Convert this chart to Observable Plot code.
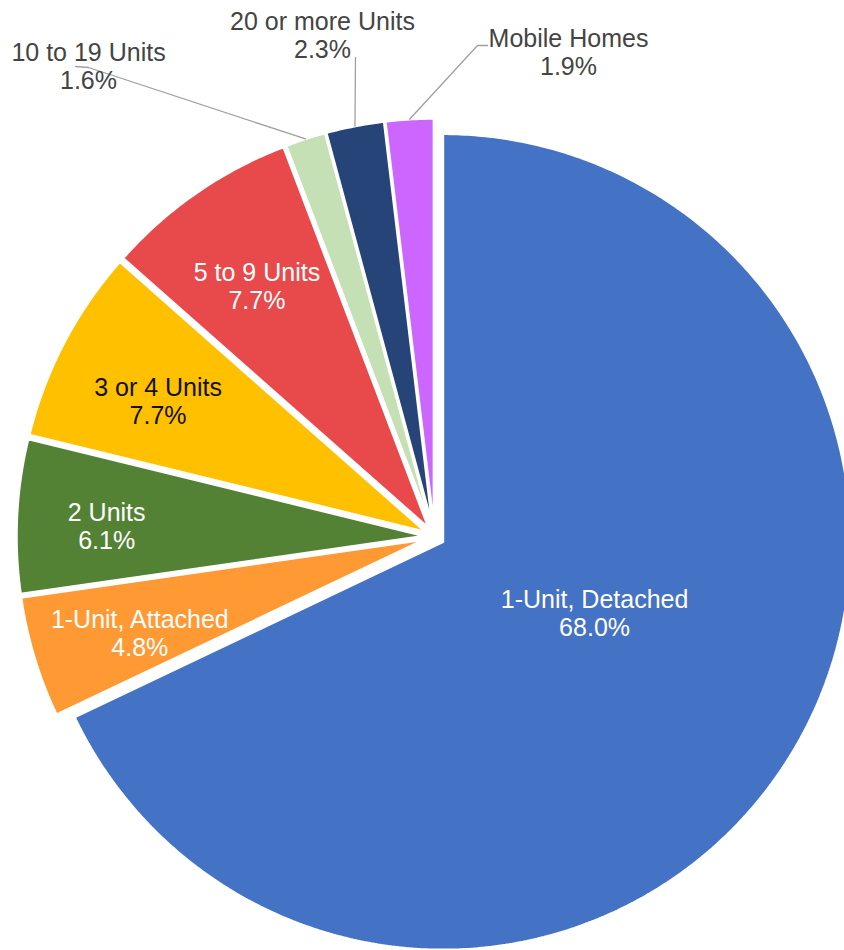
<!DOCTYPE html>
<html>
<head>
<meta charset="utf-8">
<script src="https://cdn.jsdelivr.net/npm/d3@7"></script>
<script src="https://cdn.jsdelivr.net/npm/@observablehq/plot@0.6"></script>
<style>
html, body { margin: 0; padding: 0; background: #fff; overflow: hidden; }
</style>
</head>
<body>
<div id="chart"></div>
<script>
// ---- data ----
const categories = ["1-Unit, Detached", "1-Unit, Attached", "2 Units", "3 or 4 Units", "5 to 9 Units", "10 to 19 Units", "20 or more Units", "Mobile Homes"];
const shares = [68.0, 4.8, 6.1, 7.7, 7.7, 1.6, 2.3, 1.9];
const colors = ["#4472C4", "#FF9933", "#548235", "#FFC000", "#E84A4B", "#C5E0B4", "#264478", "#CC66FF"];
const percentLabels = shares.map(v => v.toFixed(1) + "%");

// ---- layout ----
const W = 844, H = 950;
const CX = 434, CY = 536, R = 408, EXPLODE = 10;
// inside labels: radius fraction along slice direction (optional angle override, degrees), vertical nudge
const insideLayout = {
  "1-Unit, Detached": {r: 0.41, angle: 115, dy: 0, color: "#ffffff"},
  "1-Unit, Attached": {r: 0.73, dy: 7, color: "#ffffff"},
  "2 Units": {r: 0.78, dy: 5, color: "#ffffff"},
  "3 or 4 Units": {r: 0.74, dy: 9, color: "#111111"},
  "5 to 9 Units": {r: 0.74, dy: 6, color: "#ffffff"}
};
// outside labels: text block centre and leader anchor points
const outsideLayout = {
  "10 to 19 Units": {x: 88, y: 66, leader: [[75, 66], [88, 67]]},
  "20 or more Units": {x: 322, y: 35, leader: [[355, 57]]},
  "Mobile Homes": {x: 568, y: 52, leader: [[487, 45], [477, 45]]}
};

const arcs = d3.pie().sort(null).value(d => d)(shares);

const sliceRows = [];
const labelRows = [];
const leaderRows = [];
arcs.forEach((a, i) => {
  const name = categories[i];
  const mid = (a.startAngle + a.endAngle) / 2;
  const ox = CX + EXPLODE * Math.sin(mid);
  const oy = CY - EXPLODE * Math.cos(mid);
  const n = Math.max(2, Math.ceil((a.endAngle - a.startAngle) / (Math.PI / 360)));
  sliceRows.push({name, x: ox, y: oy});
  for (let k = 0; k <= n; k++) {
    const t = a.startAngle + (a.endAngle - a.startAngle) * k / n;
    sliceRows.push({name, x: ox + R * Math.sin(t), y: oy - R * Math.cos(t)});
  }
  sliceRows.push({name, x: ox, y: oy});

  const text = name + "\n" + percentLabels[i];
  if (insideLayout[name]) {
    const L = insideLayout[name];
    const ang = L.angle != null ? L.angle * Math.PI / 180 : mid;
    labelRows.push({name, text, color: L.color,
      x: ox + L.r * R * Math.sin(ang), y: oy - L.r * R * Math.cos(ang) + L.dy});
  } else if (outsideLayout[name]) {
    const L = outsideLayout[name];
    labelRows.push({name, text, color: "#444444", x: L.x, y: L.y});
    L.leader.forEach(([x, y]) => leaderRows.push({name, x, y}));
    leaderRows.push({name, x: ox + R * Math.sin(mid), y: oy - R * Math.cos(mid)});
  }
});

const font = {fontFamily: "'Liberation Sans', Arial, sans-serif", fontSize: 25, lineHeight: 1.12, lineAnchor: "middle", textAnchor: "middle"};
const textColors = Array.from(new Set(labelRows.map(d => d.color)));

const chart = Plot.plot({
  width: W,
  height: H,
  margin: 0,
  style: {background: "white", fontFamily: "'Liberation Sans', Arial, sans-serif"},
  x: {domain: [0, W], range: [0, W], axis: null},
  y: {domain: [0, H], range: [0, H], axis: null},
  color: {domain: categories, range: colors},
  marks: [
    Plot.line(sliceRows, {x: "x", y: "y", z: "name", fill: "name", stroke: "white", strokeWidth: 2.5, strokeLinejoin: "miter", clip: true}),
    Plot.line(leaderRows, {x: "x", y: "y", z: "name", stroke: "#a0a0a0", strokeWidth: 1.3}),
    ...textColors.map(c => Plot.text(labelRows.filter(d => d.color === c), {x: "x", y: "y", text: "text", fill: c, ...font}))
  ]
});
document.getElementById("chart").appendChild(chart);
</script>
</body>
</html>
